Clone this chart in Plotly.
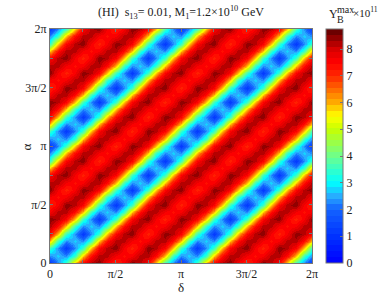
import plotly.graph_objects as go

# Axis positions, in units of pi
delta_pi = [k / 16 for k in range(33)]
alpha_pi = [k / 16 for k in range(33)]

# Y_B^max x 10^11 on a pi/16 grid. The picture repeats every
# pi in both angles, so one period is listed (rows: alpha, columns: delta).
period = [
[1.1,2.3,3.5,5.9,7.5,8.2,8.5,7.6,7.1,7.6,8.5,8.2,7.5,5.9,3.5,2.3],
[2.3,2.7,2.3,3.5,5.9,7.4,8.2,8.2,7.6,7.4,7.6,8.2,8.2,7.4,5.9,3.5],
[3.5,2.3,1.1,2.3,3.5,5.9,7.5,8.2,8.5,7.6,7.1,7.6,8.5,8.2,7.5,5.9],
[5.9,3.5,2.3,2.7,2.3,3.5,5.9,7.4,8.2,8.2,7.6,7.4,7.6,8.2,8.2,7.4],
[7.5,5.9,3.5,2.3,1.1,2.3,3.5,5.9,7.5,8.2,8.5,7.6,7.1,7.6,8.5,8.2],
[8.2,7.4,5.9,3.5,2.3,2.7,2.3,3.5,5.9,7.4,8.2,8.2,7.6,7.4,7.6,8.2],
[8.5,8.2,7.5,5.9,3.5,2.3,1.1,2.3,3.5,5.9,7.5,8.2,8.5,7.6,7.1,7.6],
[7.6,8.2,8.2,7.4,5.9,3.5,2.3,2.7,2.3,3.5,5.9,7.4,8.2,8.2,7.6,7.4],
[7.1,7.6,8.5,8.2,7.5,5.9,3.5,2.3,1.1,2.3,3.5,5.9,7.5,8.2,8.5,7.6],
[7.6,7.4,7.6,8.2,8.2,7.4,5.9,3.5,2.3,2.7,2.3,3.5,5.9,7.4,8.2,8.2],
[8.5,7.6,7.1,7.6,8.5,8.2,7.5,5.9,3.5,2.3,1.1,2.3,3.5,5.9,7.5,8.2],
[8.2,8.2,7.6,7.4,7.6,8.2,8.2,7.4,5.9,3.5,2.3,2.7,2.3,3.5,5.9,7.4],
[7.5,8.2,8.5,7.6,7.1,7.6,8.5,8.2,7.5,5.9,3.5,2.3,1.1,2.3,3.5,5.9],
[5.9,7.4,8.2,8.2,7.6,7.4,7.6,8.2,8.2,7.4,5.9,3.5,2.3,2.7,2.3,3.5],
[3.5,5.9,7.5,8.2,8.5,7.6,7.1,7.6,8.5,8.2,7.5,5.9,3.5,2.3,1.1,2.3],
[2.3,3.5,5.9,7.4,8.2,8.2,7.6,7.4,7.6,8.2,8.2,7.4,5.9,3.5,2.3,2.7],
]
Y = [r + r + r[:1] for r in period + period + period[:1]]

tick_vals = [0, 0.25, 0.5, 0.75, 1, 1.25, 1.5, 1.75, 2]
tick_text = ["0", "", "π/2", "", "π", "", "3π/2", "", "2π"]
cbar_ticks = [0, 1, 2, 3, 4, 5, 6, 7, 8]

W, H = 382, 296
L, R, T, B = 49.5, 312, 29, 263
GRAY = "#777777"
SERIF = "Liberation Serif"
INK = "#222222"
Z_MAX = 8.75
N_STEPS = 40

# colours, at bar values
bar_stops = [
    (0.0, (0, 0, 255)), (1.0, (0, 50, 255)), (2.0, (20, 100, 255)), (2.5, (40, 170, 255)),
    (3.0, (0, 255, 255)), (4.0, (110, 255, 140)), (5.0, (200, 255, 0)), (5.5, (255, 255, 0)),
    (6.0, (255, 170, 0)), (7.0, (255, 40, 0)), (7.5, (255, 0, 0)), (8.0, (215, 0, 0)),
    (8.75, (90, 0, 0)),
]

def bar_colour(v):
    for (a, ca), (b, cb) in zip(bar_stops, bar_stops[1:]):
        if v <= b:
            f = (v - a) / (b - a)
            return "rgb(%d,%d,%d)" % tuple(round(p + (q - p) * f) for p, q in zip(ca, cb))
    return "rgb(90,0,0)"

stepped = []
for n in range(N_STEPS):
    c = bar_colour((n + 0.5) / N_STEPS * Z_MAX)
    stepped += [[n / N_STEPS, c], [(n + 1) / N_STEPS, c]]

fig = go.Figure(go.Heatmap(
    x=delta_pi, y=alpha_pi, z=Y,
    colorscale=stepped, zmin=0, zmax=Z_MAX, zsmooth="best",
    hoverinfo="skip",
    colorbar=dict(
        x=(326 - L) / (R - L), xanchor="left",
        y=0, yanchor="bottom",
        lenmode="fraction", len=1,
        thicknessmode="pixels", thickness=17,
        outlinecolor=GRAY, outlinewidth=1, borderwidth=0,
        tickvals=cbar_ticks, ticks="inside", ticklen=3, tickcolor=GRAY, tickwidth=1,
        tickfont=dict(family=SERIF, size=12, color=INK),
        xpad=0, ypad=0,
    ),
))

axis = dict(
    tickmode="array", tickvals=tick_vals, ticktext=tick_text, range=[0, 2],
    ticks="inside", ticklen=3, tickcolor=GRAY, tickwidth=1,
    showline=True, linecolor=GRAY, linewidth=1, mirror="allticks",
    showgrid=False, zeroline=False,
    tickfont=dict(family=SERIF, size=12, color=INK),
)

def note(px, py, text, size=12, anchor="center", angle=0):
    return dict(xref="paper", yref="paper",
                x=(px - L) / (R - L), y=(B - py) / (B - T),
                xanchor=anchor, yanchor="middle", text=text, showarrow=False,
                font=dict(family=SERIF, size=size, color=INK), textangle=angle)

fig.update_layout(
    width=W, height=H, autosize=False,
    margin=dict(l=L, r=W - R, t=T, b=H - B, pad=0),
    paper_bgcolor="white", plot_bgcolor="white",
    xaxis=axis, yaxis=axis,
    annotations=[
        note(181, 12, "(HI)  s<sub>13</sub>= 0.01, M<sub>1</sub>=1.2×10<sup>10</sup> GeV", 12),
        note(181, 287, "δ", 13),
        note(25, 147, "α", 13, angle=-90),
        note(327, 14, "Y", 12, anchor="left"),
        note(335, 9, "max", 10, anchor="left"),
        note(335, 20, "B", 10, anchor="left"),
        note(351, 12, "×10<sup>11</sup>", 11, anchor="left"),
    ],
)

fig.write_html("out.html", config=dict(displayModeBar=False),
               post_script="document.body.style.margin='0';")
